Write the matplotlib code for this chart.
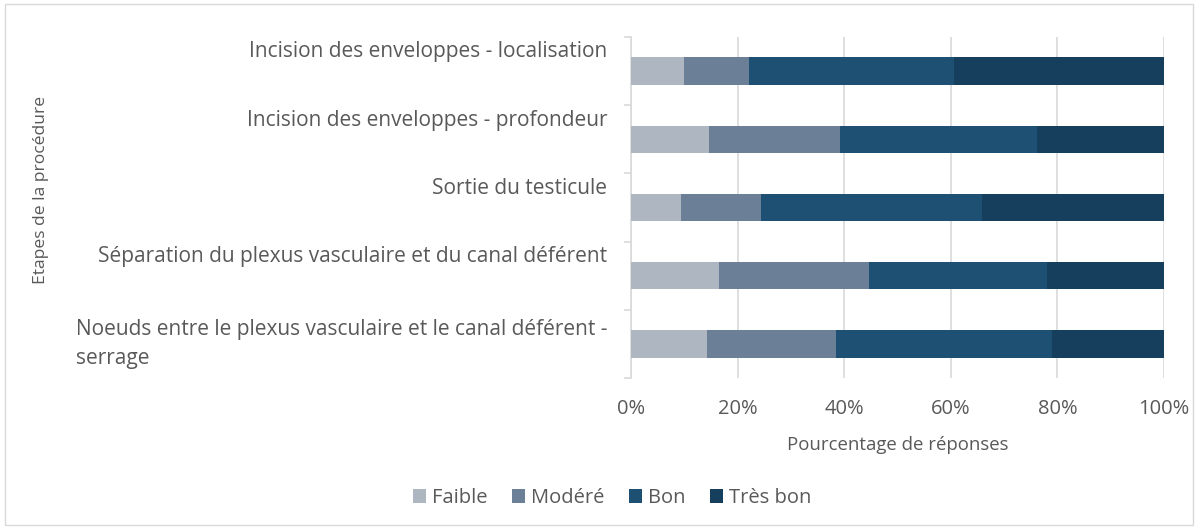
import matplotlib.pyplot as plt
from matplotlib.patches import Rectangle

plt.rcParams['font.family'] = ['Open Sans', 'DejaVu Sans']

# Data (percent of responses)
etapes = [
    'Incision des enveloppes - localisation',
    'Incision des enveloppes - profondeur',
    'Sortie du testicule',
    'Séparation du plexus vasculaire et du canal déférent',
    'Noeuds entre le plexus vasculaire et le canal déférent -\nserrage',
]
faible = [9.9, 14.6, 9.4, 16.5, 14.3]
modere = [12.3, 24.7, 15.0, 28.2, 24.2]
bon = [38.4, 36.9, 41.5, 33.4, 40.5]
tres_bon = [39.4, 23.8, 34.1, 21.9, 21.0]

series = ['Faible', 'Modéré', 'Bon', 'Très bon']
colors = ['#aeb6c1', '#6b8096', '#1d5073', '#163f5e']
values = [faible, modere, bon, tres_bon]

txt = '#595959'
grid = '#d9d9d9'

fig = plt.figure(figsize=(11.98, 5.28), dpi=100)
fig.patches.append(Rectangle((0.004, 0.006), 0.992, 0.986, transform=fig.transFigure,
                             fill=False, edgecolor='#d9d9d9', linewidth=1))
ax = fig.add_axes([0.5267, 0.284, 0.4449, 0.646])

y = list(range(len(etapes)))
left = [0.0] * len(etapes)
for name, vals, c in zip(series, values, colors):
    ax.barh(y, vals, left=left, height=0.4, color=c, label=name, zorder=3)
    left = [l + v for l, v in zip(left, vals)]

ax.set_xlim(0, 100)
ax.set_ylim(len(etapes) - 0.5, -0.5)
ax.set_xticks([0, 20, 40, 60, 80, 100])
ax.set_xticklabels([f'{t}%' for t in [0, 20, 40, 60, 80, 100]], fontsize=14.5, color=txt)
ax.tick_params(axis='x', length=0, pad=15)
ax.grid(axis='x', color=grid, linewidth=1.2, zorder=0)

# category labels, top-aligned like Excel
ax.set_yticks([i + 0.5 for i in range(-1, len(etapes))])
ax.set_yticklabels([])
ax.tick_params(axis='y', length=5, color=grid, width=1.2)
for i, lab in enumerate(etapes):
    off = 0 if '\n' in lab else -0.28
    ax.text(-0.045, i + off, lab, transform=ax.get_yaxis_transform(),
            ha='right', va='center', multialignment='left', fontsize=15,
            color=txt, linespacing=1.5)

for s in ['top', 'right', 'bottom']:
    ax.spines[s].set_visible(False)
ax.spines['left'].set_color(grid)
ax.spines['left'].set_linewidth(1.2)

ax.set_xlabel('Pourcentage de réponses', fontsize=13.4, color=txt, labelpad=12)
fig.text(0.034, 0.64, 'Etapes de la procédure', rotation=90, ha='center', va='center',
         fontsize=12.6, color=txt)

leg = fig.legend(loc='center', bbox_to_anchor=(0.511, 0.057), ncol=4, frameon=False,
                 fontsize=14.5, handlelength=0.65, handleheight=0.65, handletextpad=0.3,
                 columnspacing=1.2)
for t in leg.get_texts():
    t.set_color(txt)

fig.savefig('out.png', dpi=100)
